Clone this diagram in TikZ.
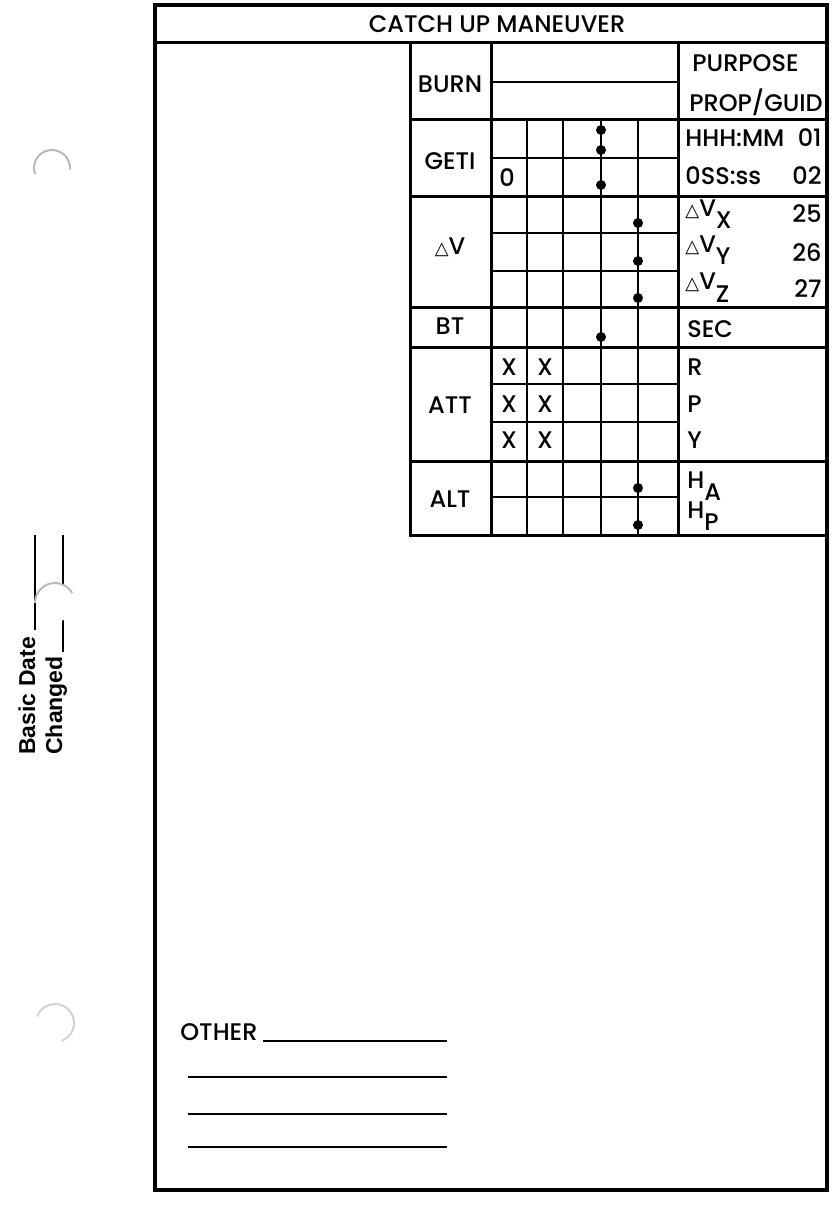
\documentclass[tikz,border=0pt]{standalone}
\usepackage{fontspec}
\setmainfont{Poppins}[UprightFont={* Medium}]
\newfontfamily\datefont{Liberation Sans}[UprightFont={* Bold}]
\newfontfamily\symfont{DejaVu Sans}
\newcommand{\dtri}{{\symfont\fontsize{9}{9}\selectfont △}}
\newcommand{\lowr}[1]{\raisebox{-6pt}{#1}}

\begin{document}
\begin{tikzpicture}[x=0.5pt,y=-0.5pt,
  frame/.style={line width=2pt},
  rule/.style={line width=1.5pt},
  grid/.style={line width=1pt},
  txt/.style={font=\fontsize{12}{13}\selectfont, inner sep=0pt, anchor=base},
  rtxt/.style={txt, anchor=base west},
  num/.style={txt, anchor=base east},
  hole/.style={gray!55, line width=1pt}]
  \useasboundingbox (0,0) rectangle (834,1208);

  % punch holes and date lines
  \draw[line width=1pt] (35,535) -- (35,630);
  \draw[line width=1pt] (63,535) -- (63,652);
  \fill[white] (55,603) circle (19);
  \draw[hole] (52,168) ++(160:18) arc (160:365:18);
  \draw[hole] (55,603) ++(180:20) arc (180:330:20);
  \draw[hole, gray!35] (55,1023) ++(200:19) arc (200:430:19);
  \node[font=\datefont\fontsize{11.5}{12}\selectfont, inner sep=0pt, rotate=90, anchor=base west] (basic) at (35,755) {Basic Date};
  \node[font=\datefont\fontsize{11.5}{12}\selectfont, inner sep=0pt, rotate=90, anchor=base west] (changed) at (62,755) {Changed};

  % frame
  \draw[frame] (155,5) rectangle (827,1190);
  \draw[rule] (155,43) -- (827,43);
  \node[txt] (title) at (497,33) {CATCH UP MANEUVER};

  % table
  \draw[rule] (410,43) -- (410,535) -- (827,535);
  \draw[rule] (491,43) -- (491,535);
  \draw[rule] (678,43) -- (678,535);
  \foreach \y in {120,197,308,347,461}
    \draw[rule] (410,\y) -- (827,\y);
  \foreach \x in {527,563,601,638}
    \draw[grid] (\x,120) -- (\x,535);
  \foreach \y in {82,158,233,271,384,422,497}
    \draw[grid] (491,\y) -- (678,\y);
  \foreach \x/\y in {601/130,601/150,601/185,638/223,638/261,638/298,601/337,638/488,638/525}
    \fill (\x,\y) circle (5);

  % row labels
  \node[txt] (burn) at (450,93) {BURN};
  \node[txt] (geti) at (450,170) {GETI};
  \node[txt] (dv) at (450,255) {\dtri V};
  \node[txt] (bt) at (450,335) {BT};
  \node[txt] (att) at (450,413) {ATT};
  \node[txt] (alt) at (450,507) {ALT};

  % cell entries
  \node[txt] (zero) at (507,187) {0};
  \foreach \y [count=\i] in {375,412,448} {
    \node[txt] (xa\i) at (509,\y) {X};
    \node[txt] (xb\i) at (545,\y) {X};
  }

  % right column
  \node[rtxt] (purpose) at (692,72) {PURPOSE};
  \node[rtxt] (prop) at (689,112) {PROP/GUID};
  \node[rtxt] (hhh) at (685,147) {HHH:MM};
  \node[num] (n01) at (822,147) {01};
  \node[rtxt] (oss) at (685,185) {0SS:ss};
  \node[num] (n02) at (822,185) {02};
  \node[rtxt] (dvx) at (685,217) {\dtri V\lowr{X}};
  \node[num] (n25) at (822,223) {25};
  \node[rtxt] (dvy) at (685,253) {\dtri V\lowr{Y}};
  \node[num] (n26) at (822,262) {26};
  \node[rtxt] (dvz) at (685,290) {\dtri V\lowr{Z}};
  \node[num] (n27) at (822,298) {27};
  \node[rtxt] (sec) at (687,337) {SEC};
  \node[rtxt] (r) at (687,375) {R};
  \node[rtxt] (p) at (687,412) {P};
  \node[rtxt] (yaw) at (687,448) {Y};
  \node[rtxt] (ha) at (687,488) {H\lowr{A}};
  \node[rtxt] (hp) at (687,518) {H\lowr{P}};

  % other
  \node[rtxt] (other) at (180,1040) {OTHER};
  \draw[grid] (other.base east) ++(5,1) -- (447,1041);
  \foreach \y in {1077,1114,1147}
    \draw[grid] (188,\y) -- (447,\y);
\end{tikzpicture}
\end{document}
